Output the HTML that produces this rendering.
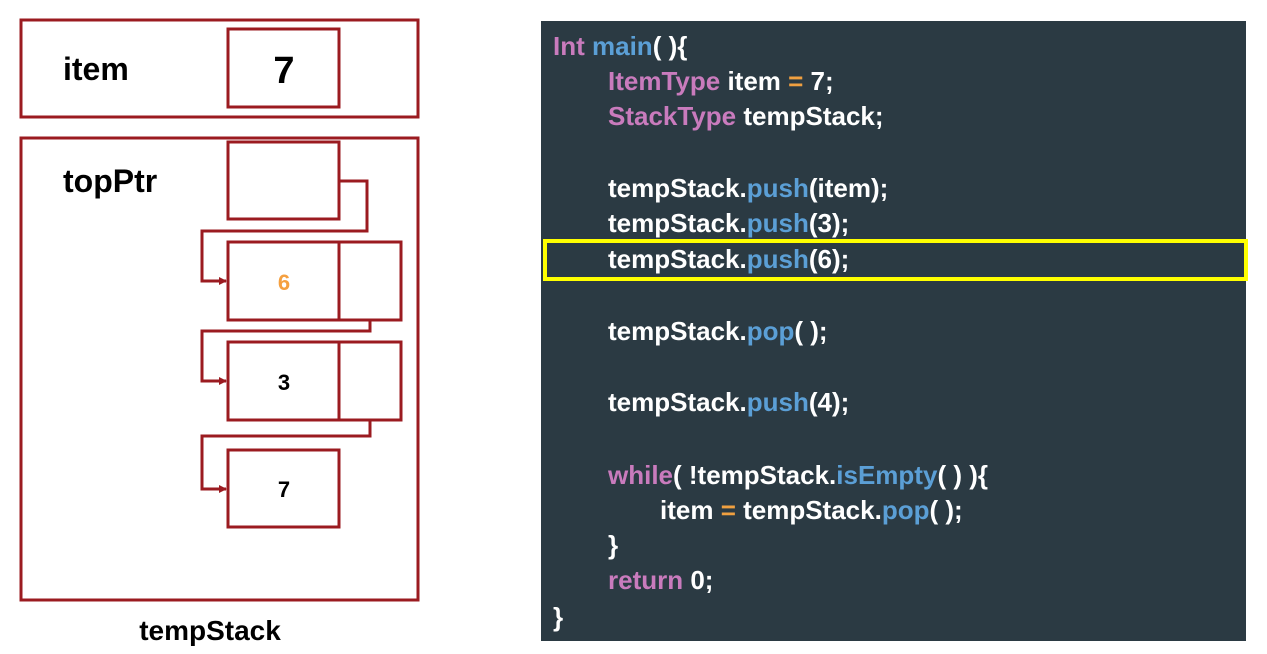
<!DOCTYPE html>
<html><head><meta charset="utf-8"><style>
body{margin:0;background:#fff;width:1267px;height:654px;overflow:hidden}
svg{display:block}
.c{font-family:"Liberation Sans",sans-serif;font-weight:bold;font-size:26px;fill:#fff}
.p{fill:#c97bbd}.b{fill:#5b9fd6}.o{fill:#f0a040}
</style></head><body>
<svg width="1267" height="654" xmlns="http://www.w3.org/2000/svg">
<defs><marker id="a" markerWidth="8" markerHeight="8" refX="7" refY="4" orient="auto" markerUnits="userSpaceOnUse"><path d="M0,0 L8,4 L0,8z" fill="#9b1b20"/></marker></defs>
<g fill="none" stroke="#9b1b20" stroke-width="3">
<rect x="21" y="20" width="397" height="97"/>
<rect x="228" y="29" width="111" height="78"/>
<rect x="21" y="138" width="397" height="462"/>
<rect x="228" y="142" width="111" height="77"/>
<rect x="228" y="242" width="111" height="78"/><rect x="339" y="242" width="62" height="78"/>
<rect x="228" y="342" width="111" height="78"/><rect x="339" y="342" width="62" height="78"/>
<rect x="228" y="450" width="111" height="77"/>
<polyline points="339,181 367,181 367,231 202,231 202,281 226,281" marker-end="url(#a)"/>
<polyline points="370,320 370,331 202,331 202,381 226,381" marker-end="url(#a)"/>
<polyline points="370,420 370,436 202,436 202,489 226,489" marker-end="url(#a)"/>
</g>
<g font-family="Liberation Sans,sans-serif" font-weight="bold">
<text x="63" y="80" font-size="32">item</text>
<text x="284" y="83" font-size="38" text-anchor="middle">7</text>
<text x="63" y="192" font-size="32">topPtr</text>
<text x="284" y="290" font-size="22" text-anchor="middle" fill="#f5a040">6</text>
<text x="284" y="390" font-size="22" text-anchor="middle">3</text>
<text x="284" y="497" font-size="22" text-anchor="middle">7</text>
<text x="210" y="640" font-size="28" text-anchor="middle">tempStack</text>
</g>
<rect x="541" y="21" width="705" height="620" fill="#2b3a43"/>
<rect x="545" y="241" width="701" height="38" fill="none" stroke="#ffff00" stroke-width="4"/>
<text class="c" x="553" y="55"><tspan class="p">Int</tspan> <tspan class="b">main</tspan>( ){</text>
<text class="c" x="608" y="90"><tspan class="p">ItemType</tspan> item <tspan class="o">=</tspan> 7;</text>
<text class="c" x="608" y="125"><tspan class="p">StackType</tspan> tempStack;</text>
<text class="c" x="608" y="197">tempStack.<tspan class="b">push</tspan>(item);</text>
<text class="c" x="608" y="232">tempStack.<tspan class="b">push</tspan>(3);</text>
<text class="c" x="608" y="268">tempStack.<tspan class="b">push</tspan>(6);</text>
<text class="c" x="608" y="340">tempStack.<tspan class="b">pop</tspan>( );</text>
<text class="c" x="608" y="411">tempStack.<tspan class="b">push</tspan>(4);</text>
<text class="c" x="608" y="484"><tspan class="p">while</tspan>( !tempStack.<tspan class="b">isEmpty</tspan>( ) ){</text>
<text class="c" x="660" y="519">item <tspan class="o">=</tspan> tempStack.<tspan class="b">pop</tspan>( );</text>
<text class="c" x="608" y="554">}</text>
<text class="c" x="608" y="589"><tspan class="p">return</tspan> 0;</text>
<text class="c" x="553" y="626">}</text>
</svg>
</body></html>
